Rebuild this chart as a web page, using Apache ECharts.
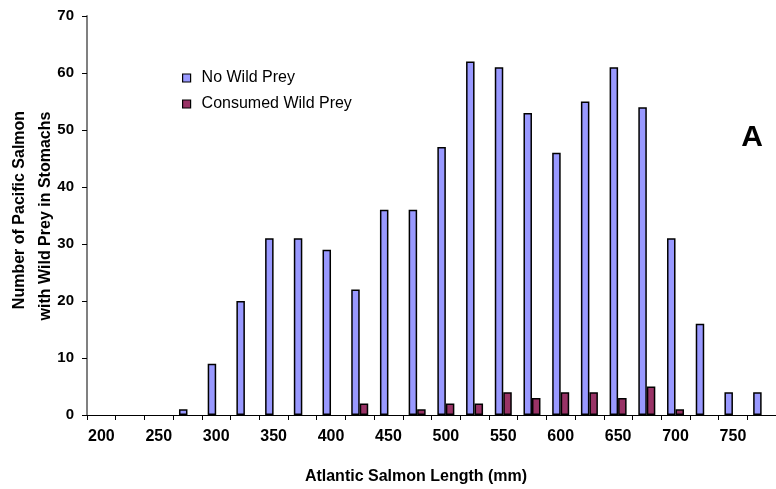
<!DOCTYPE html>
<html>
<head>
<meta charset="utf-8">
<script src="https://cdn.jsdelivr.net/npm/echarts@6/dist/echarts.min.js"></script>
<style>html,body{margin:0;padding:0;background:#fff;}#c{width:776px;height:489px;}</style>
</head>
<body>
<div id="c"></div>
<script>
var categories = ['200','225','250','275','300','325','350','375','400','425','450','475','500','525','550','575','600','625','650','675','700','725','750','775'];
var noWildPrey = [0,0,0,1,9,20,31,31,29,22,36,36,47,62,61,53,46,55,61,54,31,16,4,4];
var consumedWildPrey = [0,0,0,0,0,0,0,0,0,2,0,1,2,2,4,3,4,4,3,5,1,0,0,0];
var seriesNames = ['No Wild Prey','Consumed Wild Prey'];
var yTitleLines = ['Number of Pacific Salmon','with Wild Prey in Stomachs'];
var xTitle = 'Atlantic Salmon Length (mm)';
var panelLabel = 'A';

function hideZero(arr){ return arr.map(function(v){ return v === 0 ? '-' : v; }); }

var FONT = 'Arial, "Liberation Sans", sans-serif';
var chart = echarts.init(document.getElementById('c'), null, {renderer:'canvas'});
chart.setOption({
  animation: false,
  backgroundColor: '#fff',
  grid: {left: 87, top: 16, bottom: 74, right: -9, containLabel: false},
  legend: {
    orient: 'vertical', left: 182, top: 70, padding: 0, itemWidth: 8, itemHeight: 8, itemGap: 10,
    icon: 'rect',
    textStyle: {fontFamily: FONT, fontSize: 16, color: '#000', padding: [0, 0, 0, 6]},
    data: [
      {name: seriesNames[0], itemStyle: {color: '#9999FF', borderColor: '#000', borderWidth: 1.2}},
      {name: seriesNames[1], itemStyle: {color: '#993366', borderColor: '#000', borderWidth: 1.2}}
    ]
  },
  xAxis: {
    type: 'category', data: categories, boundaryGap: true,
    axisLine: {lineStyle: {color: '#000', width: 1}},
    axisTick: {show: true, interval: 0, length: 5, inside: false, lineStyle: {color: '#000'}},
    axisLabel: {interval: 1, margin: 14, fontFamily: FONT, fontSize: 16, fontWeight: 'bold', color: '#000'},
    splitLine: {show: false}
  },
  yAxis: {
    type: 'value', min: 0, max: 70, interval: 10,
    axisLine: {show: true, lineStyle: {color: '#808080', width: 2}},
    axisTick: {show: true, length: 5, lineStyle: {color: '#000'}},
    axisLabel: {margin: 13, fontFamily: FONT, fontSize: 15, fontWeight: 'bold', color: '#000'},
    splitLine: {show: false}
  },
  series: [
    {name: seriesNames[0], type: 'bar', data: hideZero(noWildPrey), barWidth: 8.5, barGap: '0%',
     itemStyle: {color: '#9999FF', borderColor: '#000', borderWidth: 1.5}},
    {name: seriesNames[1], type: 'bar', data: hideZero(consumedWildPrey), barWidth: 8.5, barGap: '0%',
     itemStyle: {color: '#993366', borderColor: '#000', borderWidth: 1.5}}
  ],
  graphic: [
    {type: 'text', x: 20, y: 210, rotation: Math.PI/2, style: {text: yTitleLines[0], font: 'bold 16px ' + FONT, fill: '#000', textAlign: 'center', textVerticalAlign: 'middle'}},
    {type: 'text', x: 46, y: 216, rotation: Math.PI/2, style: {text: yTitleLines[1], font: 'bold 16px ' + FONT, fill: '#000', textAlign: 'center', textVerticalAlign: 'middle'}},
    {type: 'text', x: 416, y: 477, style: {text: xTitle, font: 'bold 16px ' + FONT, fill: '#000', textAlign: 'center', textVerticalAlign: 'middle'}},
    {type: 'text', x: 752, y: 138, style: {text: panelLabel, font: 'bold 30px ' + FONT, fill: '#000', textAlign: 'center', textVerticalAlign: 'middle'}}
  ]
});
</script>
</body>
</html>
